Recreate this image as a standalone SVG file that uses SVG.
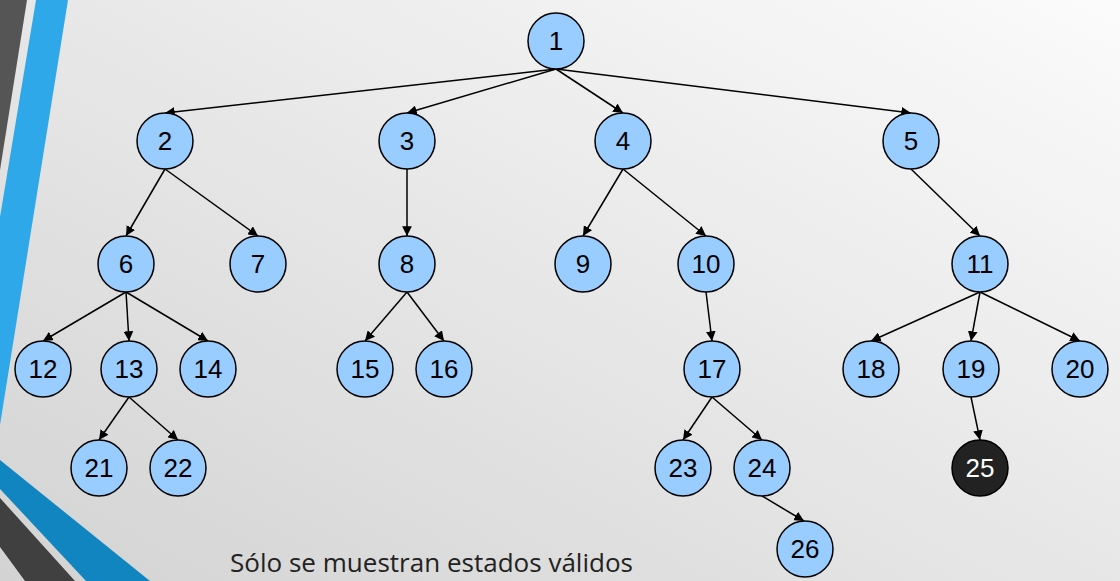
<svg xmlns="http://www.w3.org/2000/svg" width="1120" height="581" viewBox="0 0 1120 581">
<defs>
<linearGradient id="bg" x1="1" y1="0" x2="0" y2="1">
<stop offset="0" stop-color="#fbfbfb"/>
<stop offset="1" stop-color="#d3d3d3"/>
</linearGradient>
<marker id="arr" viewBox="0 0 10 10" refX="10" refY="5" markerWidth="6.5" markerHeight="6.5" orient="auto" markerUnits="strokeWidth">
<path d="M0,0 L10,5 L0,10 z" fill="#000"/>
</marker>
<style>
.n{fill:#99ccff;stroke:#000;stroke-width:1.5}
.d{fill:#222;stroke:#000;stroke-width:1.5}
.t{font-family:"Liberation Sans",Arial,sans-serif;font-size:26px;text-anchor:middle;fill:#000}
.tw{font-family:"Liberation Sans",Arial,sans-serif;font-size:26px;text-anchor:middle;fill:#fff}
.e{stroke:#000;stroke-width:1.5;fill:none;marker-end:url(#arr)}
</style>
</defs>
<rect width="1120" height="581" fill="url(#bg)"/>
<g id="decor">
<polygon points="0,0 27,0 0,170" fill="#555"/>
<polygon points="36,0 68,0 0,425 0,217" fill="#2ea8e8"/>
<polygon points="0,460 150,581 86,581 0,489" fill="#1185c0"/>
<polygon points="0,498 75,581 25,581 0,547" fill="#404040"/>
</g>
<g id="connectors">
<line class="e" x1="556" y1="69" x2="165" y2="113"/>
<line class="e" x1="556" y1="69" x2="407" y2="113"/>
<line class="e" x1="556" y1="69" x2="623" y2="113"/>
<line class="e" x1="556" y1="69" x2="911" y2="113"/>
<line class="e" x1="165" y1="169" x2="126" y2="236"/>
<line class="e" x1="165" y1="169" x2="258" y2="236"/>
<line class="e" x1="407" y1="169" x2="407" y2="236"/>
<line class="e" x1="623" y1="169" x2="583" y2="236"/>
<line class="e" x1="623" y1="169" x2="706" y2="236"/>
<line class="e" x1="911" y1="169" x2="980" y2="236"/>
<line class="e" x1="126" y1="292" x2="43" y2="341"/>
<line class="e" x1="126" y1="292" x2="129" y2="341"/>
<line class="e" x1="126" y1="292" x2="208" y2="341"/>
<line class="e" x1="407" y1="292" x2="365" y2="341"/>
<line class="e" x1="407" y1="292" x2="444" y2="341"/>
<line class="e" x1="706" y1="292" x2="712" y2="341"/>
<line class="e" x1="980" y1="292" x2="871" y2="341"/>
<line class="e" x1="980" y1="292" x2="971" y2="341"/>
<line class="e" x1="980" y1="292" x2="1080" y2="341"/>
<line class="e" x1="129" y1="397" x2="99" y2="440"/>
<line class="e" x1="129" y1="397" x2="178" y2="440"/>
<line class="e" x1="712" y1="397" x2="683" y2="440"/>
<line class="e" x1="712" y1="397" x2="762" y2="440"/>
<line class="e" x1="971" y1="397" x2="980" y2="440"/>
<line class="e" x1="762" y1="496" x2="804" y2="521"/>
</g>
<g id="n1"><circle class="n" cx="556" cy="41" r="28"/><text class="t" x="556" y="50">1</text></g>
<g id="n2"><circle class="n" cx="165" cy="141" r="28"/><text class="t" x="165" y="150">2</text></g>
<g id="n3"><circle class="n" cx="407" cy="141" r="28"/><text class="t" x="407" y="150">3</text></g>
<g id="n4"><circle class="n" cx="623" cy="141" r="28"/><text class="t" x="623" y="150">4</text></g>
<g id="n5"><circle class="n" cx="911" cy="141" r="28"/><text class="t" x="911" y="150">5</text></g>
<g id="n6"><circle class="n" cx="126" cy="264" r="28"/><text class="t" x="126" y="273">6</text></g>
<g id="n7"><circle class="n" cx="258" cy="264" r="28"/><text class="t" x="258" y="273">7</text></g>
<g id="n8"><circle class="n" cx="407" cy="264" r="28"/><text class="t" x="407" y="273">8</text></g>
<g id="n9"><circle class="n" cx="583" cy="264" r="28"/><text class="t" x="583" y="273">9</text></g>
<g id="n10"><circle class="n" cx="706" cy="264" r="28"/><text class="t" x="706" y="273">10</text></g>
<g id="n11"><circle class="n" cx="980" cy="264" r="28"/><text class="t" x="980" y="273">11</text></g>
<g id="n12"><circle class="n" cx="43" cy="369" r="28"/><text class="t" x="43" y="378">12</text></g>
<g id="n13"><circle class="n" cx="129" cy="369" r="28"/><text class="t" x="129" y="378">13</text></g>
<g id="n14"><circle class="n" cx="208" cy="369" r="28"/><text class="t" x="208" y="378">14</text></g>
<g id="n15"><circle class="n" cx="365" cy="369" r="28"/><text class="t" x="365" y="378">15</text></g>
<g id="n16"><circle class="n" cx="444" cy="369" r="28"/><text class="t" x="444" y="378">16</text></g>
<g id="n17"><circle class="n" cx="712" cy="369" r="28"/><text class="t" x="712" y="378">17</text></g>
<g id="n18"><circle class="n" cx="871" cy="369" r="28"/><text class="t" x="871" y="378">18</text></g>
<g id="n19"><circle class="n" cx="971" cy="369" r="28"/><text class="t" x="971" y="378">19</text></g>
<g id="n20"><circle class="n" cx="1080" cy="369" r="28"/><text class="t" x="1080" y="378">20</text></g>
<g id="n21"><circle class="n" cx="99" cy="468" r="28"/><text class="t" x="99" y="477">21</text></g>
<g id="n22"><circle class="n" cx="178" cy="468" r="28"/><text class="t" x="178" y="477">22</text></g>
<g id="n23"><circle class="n" cx="683" cy="468" r="28"/><text class="t" x="683" y="477">23</text></g>
<g id="n24"><circle class="n" cx="762" cy="468" r="28"/><text class="t" x="762" y="477">24</text></g>
<g id="n25"><circle class="d" cx="980" cy="468" r="28"/><text class="tw" x="980" y="477">25</text></g>
<g id="n26"><circle class="n" cx="805" cy="549" r="28"/><text class="t" x="805" y="558">26</text></g>
<text x="230" y="572" font-family="'Open Sans','Liberation Sans',sans-serif" font-size="25" fill="#222" textLength="403" lengthAdjust="spacingAndGlyphs">Sólo se muestran estados válidos</text>
</svg>
